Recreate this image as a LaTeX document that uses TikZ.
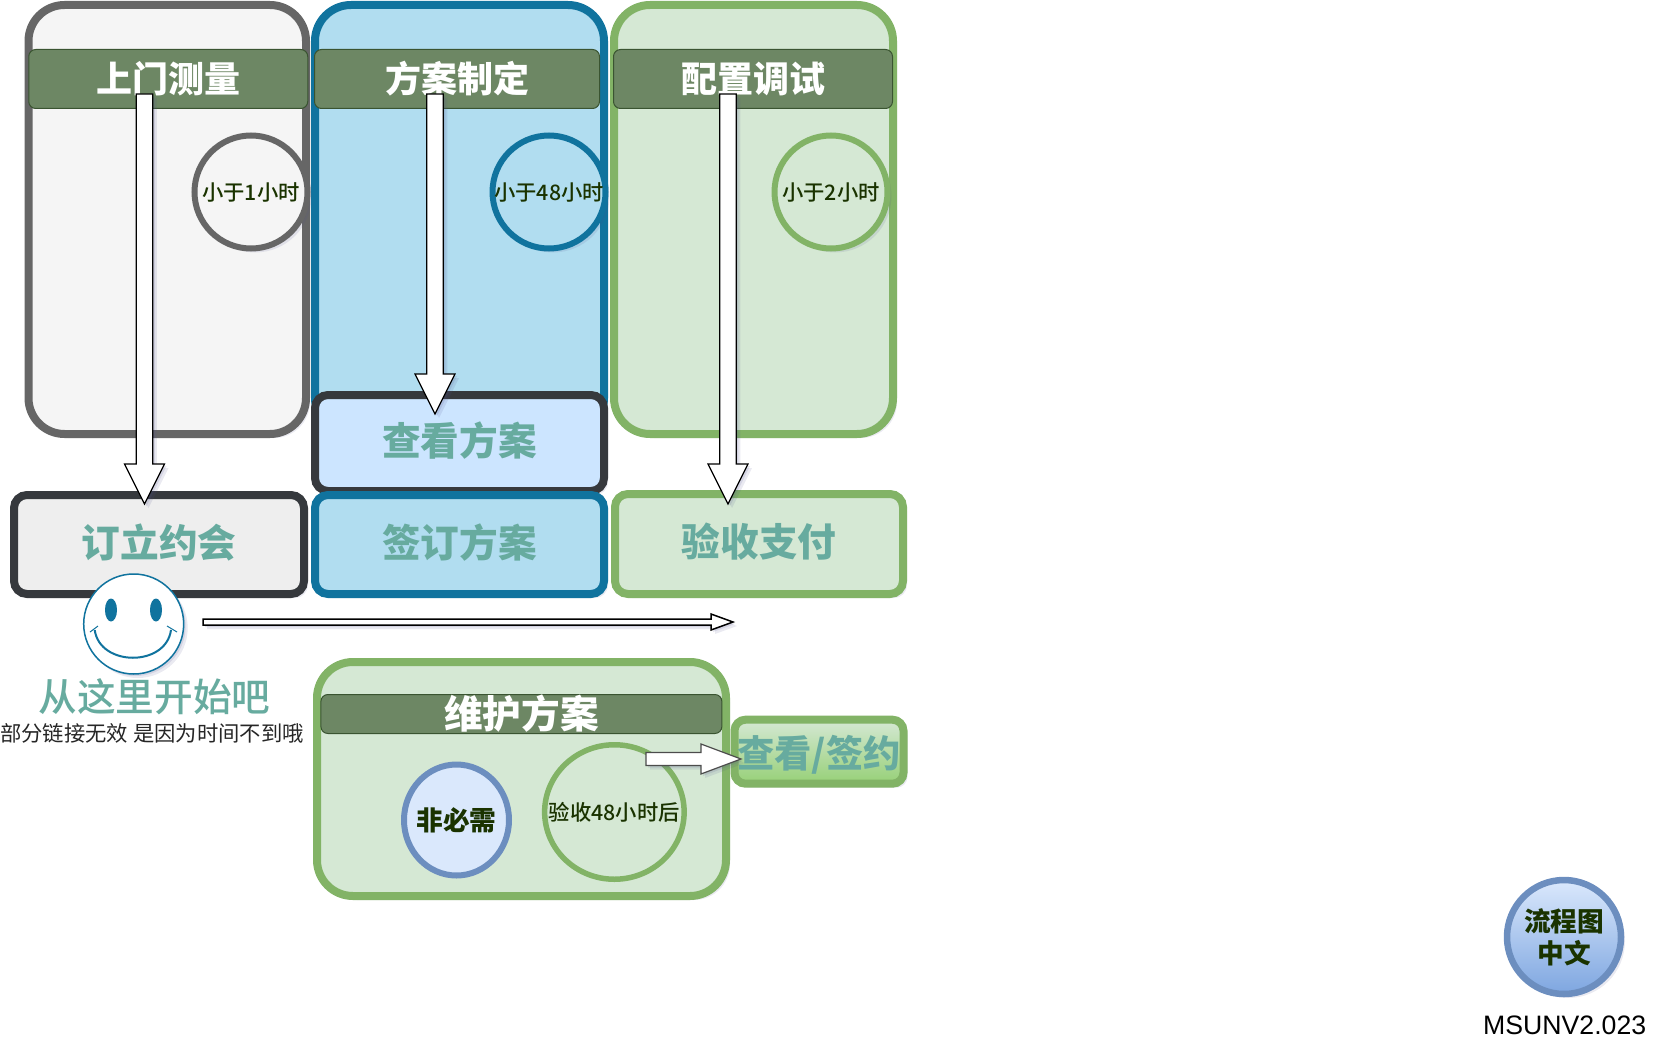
\documentclass[tikz,border=0pt]{standalone}
\usepackage{fontspec}
\setmainfont{Noto Sans CJK SC}[BoldFont={Noto Sans CJK SC Black}]
\newfontfamily\msufont{Liberation Sans}
\newfontfamily\medfont{Noto Sans CJK SC Medium}
\usetikzlibrary{calc,shadows,shapes.geometric}

\def\px{0.75pt}

\definecolor{grayline}{HTML}{666666}
\definecolor{grayfill}{HTML}{F5F5F5}
\definecolor{darkline}{HTML}{36393D}
\definecolor{lightfill}{HTML}{EEEEEE}
\definecolor{cyanline}{HTML}{10739E}
\definecolor{cyanfill}{HTML}{B1DDF0}
\definecolor{paleblue}{HTML}{CCE5FF}
\definecolor{greenline}{HTML}{82B366}
\definecolor{greenfill}{HTML}{D5E8D4}
\definecolor{greenend}{HTML}{97D077}
\definecolor{headfill}{HTML}{6D8764}
\definecolor{headline}{HTML}{3A5431}
\definecolor{tealtext}{HTML}{67AB9F}
\definecolor{darktext}{HTML}{1A3300}
\definecolor{blueline}{HTML}{6C8EBF}
\definecolor{bluefill}{HTML}{DAE8FC}
\definecolor{blueend}{HTML}{7EA6E0}
\definecolor{shadowc}{HTML}{50508C}

\tikzset{
    softshadow/.style={
        drop shadow={shadow xshift=1.5pt,shadow yshift=-1.5pt,opacity=.14,fill=shadowc},
        drop shadow={shadow xshift=3pt,shadow yshift=-3pt,opacity=.12,fill=shadowc}
    },
    boxsize/.style 2 args={minimum width=#1*\px,minimum height=#2*\px},
    lane/.style={rectangle,draw,rounded corners=36*\px,line width=8*\px,inner sep=0pt,softshadow},
    step box/.style={rectangle,draw,rounded corners=13*\px,line width=8*\px,inner sep=0pt,softshadow,
        text=tealtext,text depth=6pt,font=\fontsize{29}{34}\selectfont\bfseries},
    titlebar/.style={rectangle,draw=headline,fill=headfill,rounded corners=7*\px,line width=1*\px,inner sep=0pt,
        text=white,font=\fontsize{27}{32}\selectfont\bfseries},
    timer/.style={circle,draw,line width=6*\px,inner sep=0pt,minimum size=113*\px,softshadow,
        text=darktext,font=\medfont\fontsize{16}{20}\selectfont},
    blockarrow/.style n args={3}{draw=black,fill=white,line width=1.2*\px,line join=miter,to path={
        ($(\tikztostart)!#1*\px!90:(\tikztotarget)$)
        -- ($($(\tikztotarget)!#3*\px!(\tikztostart)$)!#1*\px!90:(\tikztotarget)$)
        -- ($($(\tikztotarget)!#3*\px!(\tikztostart)$)!#2*\px!90:(\tikztotarget)$)
        -- (\tikztotarget)
        -- ($($(\tikztotarget)!#3*\px!(\tikztostart)$)!#2*\px!-90:(\tikztotarget)$)
        -- ($($(\tikztotarget)!#3*\px!(\tikztostart)$)!#1*\px!-90:(\tikztotarget)$)
        -- ($(\tikztostart)!#1*\px!-90:(\tikztotarget)$)
        -- cycle}}
}

\begin{document}
\begin{tikzpicture}[x=0.75pt,y=-0.75pt]
    \useasboundingbox (0,0) rectangle (1667,1056);

    % --- The three tall lanes ---
    \node[lane,draw=grayline,fill=grayfill,boxsize={277.5}{429}] (laneA) at (167.25,219.5) {};
    \node[lane,draw=cyanline,fill=cyanfill,boxsize={289}{429}] (laneB) at (459.5,219.5) {};
    \node[lane,draw=greenline,fill=greenfill,boxsize={279}{429}] (laneC) at (753.5,219.5) {};

    % --- Title bars ---
    \node[titlebar,boxsize={279}{59}] (titleA) at (168.25,79) {上门测量};
    \node[titlebar,boxsize={285}{59}] (titleB) at (457,79) {方案制定};
    \node[titlebar,boxsize={279}{59}] (titleC) at (753,79) {配置调试};

    % --- Time circles ---
    \node[timer,draw=grayline,fill=grayfill] (timeA) at (251,192) {小于1小时};
    \node[timer,draw=cyanline,fill=cyanfill] (timeB) at (549,192) {\makebox[0pt]{小于48小时}};
    \node[timer,draw=greenline,fill=greenfill] (timeC) at (831,192) {小于2小时};

    % --- Step boxes under the lanes ---
    \node[step box,draw=darkline,fill=paleblue,boxsize={289}{96}] (viewplan) at (459.5,443) {查看方案};
    \node[step box,draw=darkline,fill=lightfill,boxsize={290}{99}] (booking) at (159,544.5) {订立约会};
    \node[step box,draw=cyanline,fill=cyanfill,boxsize={289}{99}] (signplan) at (459.5,544.5) {签订方案};
    \node[step box,draw=greenline,fill=greenfill,boxsize={288}{100}] (accept) at (759,544) {验收支付};

    % --- Smiling face ---
    \node[circle,draw=cyanline,fill=white,line width=1.5*\px,minimum size=100*\px,softshadow] (face) at (133.7,624) {};
    \fill[cyanline] (111,610) ellipse [x radius=6,y radius=11.5];
    \fill[cyanline] (156,610) ellipse [x radius=6,y radius=11.5];
    \draw[cyanline,line width=2*\px] (94.7,630) .. controls (100,667) and (166,667) .. (171,630);
    \draw[cyanline,line width=1*\px] (90,632) -- (98,626);
    \draw[cyanline,line width=1*\px] (167,626) -- (177,632);

    \node[text=tealtext,font=\medfont\fontsize{29}{34}\selectfont,inner sep=0pt] (start) at (154.5,697) {从这里开始吧};
    \node[text=black!85,font=\fontsize{16}{20}\selectfont,inner sep=0pt] (note) at (152,733) {部分链接无效 是因为时间不到哦};

    % --- Maintenance block ---
    \node[lane,draw=greenline,fill=greenfill,boxsize={409}{234}] (laneD) at (521.5,779) {};
    \node[titlebar,boxsize={401}{39},font=\fontsize{29}{34}\selectfont\bfseries] (titleD) at (521.4,714) {维护方案};
    \node[ellipse,draw=blueline,fill=bluefill,line width=6*\px,inner sep=0pt,minimum width=105*\px,minimum height=111*\px,
        text=darktext,font=\fontsize{20}{24}\selectfont\bfseries] (optional) at (456.5,820) {\makebox[0pt]{非必需}};
    \node[ellipse,draw=greenline,fill=greenfill,line width=5.5*\px,inner sep=0pt,minimum width=139.5*\px,minimum height=134.5*\px,
        text=darktext,font=\medfont\fontsize{16}{20}\selectfont] (after) at (614.4,812) {\makebox[0pt]{验收48小时后}};
    \node[step box,draw=greenline,top color=greenfill,bottom color=greenend,boxsize={169}{64},rounded corners=11*\px,text depth=0pt,
        font=\fontsize{28}{34}\selectfont\bfseries] (signview) at (819,751.7) {查看/签约};

    % --- Badge in the corner ---
    \node[circle,draw=blueline,top color=bluefill,bottom color=blueend,line width=6.5*\px,minimum size=114*\px,inner sep=0pt,
        softshadow,text=darktext,align=center,font=\fontsize{20}{24}\selectfont\bfseries] (badge) at (1564,937) {\makebox[0pt]{流程图}\\\makebox[0pt]{中文}};
    \node[font=\msufont\fontsize{20}{24}\selectfont,inner sep=0pt] (version) at (1564.7,1025) {MSUNV2.023};

    % --- Ends of the block arrows ---
    \coordinate (fromA) at (144.5,94);
    \coordinate (toA) at (144.5,504);
    \coordinate (fromB) at (435,94);
    \coordinate (toB) at (435,414);
    \coordinate (fromC) at (728,94);
    \coordinate (toC) at (728,504);
    \coordinate (fromRow) at (203,622);
    \coordinate (toRow) at (733,622);
    \coordinate (fromAfter) at (646,759);
    \coordinate (toSign) at (741,759);

    % --- Block arrows go on top of everything ---
    \draw[blockarrow={8.3}{20}{40},softshadow] (fromA) to (toA);
    \draw[blockarrow={8.3}{20}{40},softshadow] (fromB) to (toB);
    \draw[blockarrow={8.3}{20}{40},softshadow] (fromC) to (toC);
    \draw[blockarrow={3}{8}{22},line width=1.5*\px,softshadow] (fromRow) to (toRow);
    \draw[blockarrow={6.5}{15}{40},draw=black!70,softshadow] (fromAfter) to (toSign);
\end{tikzpicture}
\end{document}
